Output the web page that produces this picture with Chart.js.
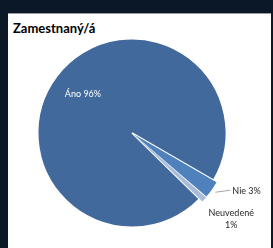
<!DOCTYPE html>
<html>
<head>
    <title>Zamestnaný/á</title>
    <script src="https://cdn.jsdelivr.net/npm/chart.js"></script>
    <style>
        html, body {
            margin: 0;
            padding: 0;
            width: 273px;
            height: 248px;
            overflow: hidden;
            background-color: #0a1828;
        }

        .panel {
            position: absolute;
            left: 8px;
            top: 13px;
            width: 263px;
            height: 240px;
            background-color: #fff;
            border-top: 1px solid #9a9a9a;
        }

        .title {
            position: absolute;
            left: 13px;
            top: 20px;
            font-family: Lato, Arial, sans-serif;
            font-weight: bold;
            font-size: 13px;
            color: #000;
        }

        canvas {
            position: absolute;
            left: 0;
            top: 0;
        }
    </style>
</head>
<body>
    <div class="panel"></div>
    <div class="title">Zamestnaný/á</div>
    <canvas id="pieChart" width="273" height="248"></canvas>

    <script>
        // Chart data
        var categories = ['Áno', 'Nie', 'Neuvedené'];
        var percents = [96, 3, 1];
        var sliceColors = ['#41699b', '#4f81bd', '#a9bcda'];
        var explode = [0, 8, 8];

        // Labels drawn next to the slices, placed from the arc geometry
        var labelPlugin = {
            id: 'sliceLabels',
            afterDatasetsDraw: function(chart) {
                var ctx = chart.ctx;
                var arcs = chart.getDatasetMeta(0).data;
                ctx.save();
                ctx.font = '9px Lato, Arial, sans-serif';
                ctx.textBaseline = 'middle';

                arcs.forEach(function(arc, i) {
                    var mid = (arc.startAngle + arc.endAngle) / 2;
                    var off = explode[i];
                    var text = categories[i] + ' ' + percents[i] + '%';

                    if (i === 0) {
                        // inside label
                        var r = arc.outerRadius * 0.68;
                        ctx.fillStyle = '#ffffff';
                        ctx.textAlign = 'center';
                        ctx.fillText(text, arc.x + Math.cos(mid) * r + 2, arc.y + Math.sin(mid) * r);
                    } else if (i === 1) {
                        // outside label with leader line
                        var rr = arc.outerRadius + off;
                        var sx = arc.x + Math.cos(mid) * rr;
                        var sy = arc.y + Math.sin(mid) * rr;
                        ctx.strokeStyle = '#a6a6a6';
                        ctx.lineWidth = 1;
                        ctx.beginPath();
                        ctx.moveTo(sx, sy);
                        ctx.lineTo(sx + 15, sy - 2);
                        ctx.stroke();
                        ctx.fillStyle = '#262626';
                        ctx.textAlign = 'left';
                        ctx.fillText(text, sx + 17, sy - 1.5);
                    } else {
                        var r2 = arc.outerRadius + off;
                        var px = arc.x + Math.cos(mid) * r2;
                        var py = arc.y + Math.sin(mid) * r2;
                        ctx.fillStyle = '#262626';
                        ctx.textAlign = 'center';
                        ctx.fillText(categories[i], px + 24, py + 11);
                        ctx.fillText(percents[i] + '%', px + 24, py + 23);
                    }
                });
                ctx.restore();
            }
        };

        var ctx = document.getElementById('pieChart').getContext('2d');
        var pieChart = new Chart(ctx, {
            type: 'pie',
            data: {
                labels: categories,
                datasets: [{
                    data: percents,
                    backgroundColor: sliceColors,
                    borderColor: '#ffffff',
                    borderWidth: [1.5, 0, 0],
                    offset: explode
                }]
            },
            options: {
                responsive: false,
                animation: false,
                rotation: 134.4,
                layout: {
                    padding: { left: 33, right: 42, top: 34, bottom: 16 }
                },
                plugins: {
                    legend: { display: false },
                    tooltip: { enabled: false }
                }
            },
            plugins: [labelPlugin]
        });
    </script>
</body>
</html>
